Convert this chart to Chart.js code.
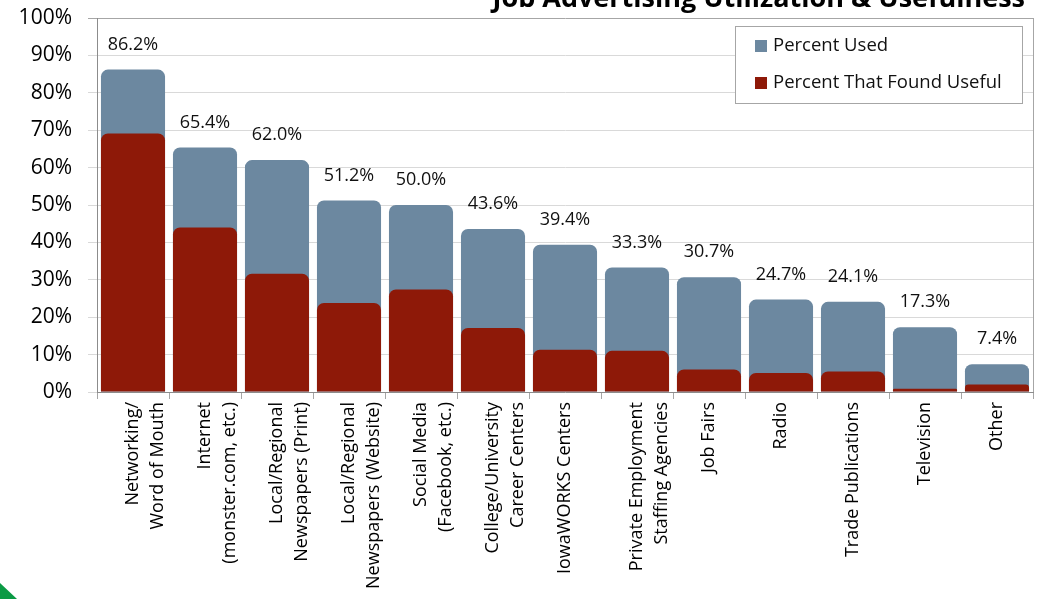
<!DOCTYPE html>
<html>
<head>
<meta charset="utf-8">
<script src="https://cdn.jsdelivr.net/npm/chart.js@4"></script>
<style>
  html, body { margin: 0; padding: 0; background: #ffffff; overflow: hidden; }
  #wrap { position: relative; width: 1038px; height: 599px; }
</style>
</head>
<body>
<div id="wrap"><canvas id="jobChart" width="1038" height="599"></canvas></div>
<script>
// Chart data
const categories = [
    ['Networking/', 'Word of Mouth'],
    ['Internet', '(monster.com, etc.)'],
    ['Local/Regional', 'Newspapers (Print)'],
    ['Local/Regional', 'Newspapers (Website)'],
    ['Social Media', '(Facebook, etc.)'],
    ['College/University', 'Career Centers'],
    'IowaWORKS Centers',
    ['Private Employment', 'Staffing Agencies'],
    'Job Fairs',
    'Radio',
    'Trade Publications',
    'Television',
    'Other'
];
const percentUsed = [86.2, 65.4, 62.0, 51.2, 50.0, 43.6, 39.4, 33.3, 30.7, 24.7, 24.1, 17.3, 7.4];
const percentUseful = [69.1, 44.0, 31.6, 23.8, 27.4, 17.1, 11.3, 11.0, 6.0, 5.1, 5.5, 0.9, 2.0];
const yTicks = [0, 10, 20, 30, 40, 50, 60, 70, 80, 90, 100];

const FONT = '"Open Sans", "Noto Sans", sans-serif';
const usedColor = '#6c88a0';
const usefulColor = '#8e1908';

// value labels above the "used" bars
const valueLabels = {
    id: 'valueLabels',
    afterDatasetsDraw(chart) {
        const ctx = chart.ctx;
        const meta = chart.getDatasetMeta(0);
        ctx.save();
        ctx.font = '18px ' + FONT;
        ctx.fillStyle = '#111111';
        ctx.textAlign = 'center';
        ctx.textBaseline = 'middle';
        meta.data.forEach((bar, i) => {
            ctx.fillText(percentUsed[i].toFixed(1) + '%', bar.x, bar.y - 25);
        });
        ctx.restore();
    }
};

// frame, legend box, title and corner mark
const extras = {
    id: 'extras',
    afterDraw(chart) {
        const ctx = chart.ctx;
        const area = chart.chartArea;
        ctx.save();

        // right border of plot
        ctx.strokeStyle = '#a6a6a6';
        ctx.lineWidth = 1;
        ctx.beginPath();
        ctx.moveTo(Math.round(area.right) + 0.5, area.top);
        ctx.lineTo(Math.round(area.right) + 0.5, area.bottom);
        ctx.stroke();

        // legend
        const lx = 735, ly = 26, lw = 287, lh = 77;
        ctx.fillStyle = '#ffffff';
        ctx.fillRect(lx, ly, lw, lh);
        ctx.strokeStyle = '#a6a6a6';
        ctx.strokeRect(lx + 0.5, ly + 0.5, lw, lh);
        ctx.font = '18.5px ' + FONT;
        ctx.textBaseline = 'middle';
        ctx.textAlign = 'left';
        chart.data.datasets.forEach((ds, i) => {
            const cy = ly + 20 + i * 37;
            ctx.fillStyle = ds.backgroundColor;
            ctx.fillRect(lx + 20, cy - 6, 12, 12);
            ctx.fillStyle = '#111111';
            ctx.fillText(ds.label, lx + 38, cy);
        });

        // title, cut off at the top
        ctx.font = 'bold 27px ' + FONT;
        ctx.fillStyle = '#000000';
        ctx.textAlign = 'right';
        ctx.textBaseline = 'alphabetic';
        ctx.fillText('Job Advertising Utilization & Usefulness', 1025, 7);

        // green corner
        ctx.fillStyle = '#0a9a44';
        ctx.beginPath();
        ctx.moveTo(0, 583);
        ctx.lineTo(17, 599);
        ctx.lineTo(0, 599);
        ctx.closePath();
        ctx.fill();

        ctx.restore();
    }
};

new Chart(document.getElementById('jobChart'), {
    type: 'bar',
    data: {
        labels: categories,
        datasets: [
            {
                label: 'Percent Used',
                data: percentUsed,
                backgroundColor: usedColor,
                borderRadius: { topLeft: 7, topRight: 7, bottomLeft: 0, bottomRight: 0 },
                borderSkipped: false,
                order: 2
            },
            {
                label: 'Percent That Found Useful',
                data: percentUseful,
                backgroundColor: usefulColor,
                borderRadius: { topLeft: 7, topRight: 7, bottomLeft: 0, bottomRight: 0 },
                borderSkipped: false,
                order: 1
            }
        ]
    },
    options: {
        responsive: false,
        animation: false,
        devicePixelRatio: 1,
        layout: { padding: { top: 18, right: 5, left: 0, bottom: 0 } },
        datasets: {
            bar: { grouped: false, barPercentage: 0.89, categoryPercentage: 1.0 }
        },
        scales: {
            x: {
                offset: true,
                grid: {
                    display: true,
                    drawOnChartArea: false,
                    offset: true,
                    tickLength: 7,
                    color: '#a6a6a6'
                },
                border: { display: true, color: '#8c8c8c', width: 1 },
                ticks: {
                    autoSkip: false,
                    maxRotation: 90,
                    minRotation: 90,
                    padding: 3,
                    color: '#000000',
                    font: { family: FONT, size: 18, lineHeight: 1.4 }
                },
                afterFit(scale) { scale.height = 207; }
            },
            y: {
                min: 0,
                max: 100,
                afterBuildTicks(scale) { scale.ticks = yTicks.map(v => ({ value: v })); },
                grid: {
                    color: ctx => (ctx.tick && ctx.tick.value === 100) ? '#a6a6a6' : '#d9d9d9',
                    tickLength: 9
                },
                border: { display: true, color: '#8c8c8c', width: 1 },
                ticks: {
                    padding: 16,
                    color: '#000000',
                    font: { family: FONT, size: 21 },
                    callback: v => v + '%'
                },
                afterFit(scale) {
                    scale.width = 97;
                    scale.paddingTop = 0;
                    scale.paddingBottom = 0;
                }
            }
        },
        plugins: {
            legend: { display: false },
            tooltip: { enabled: false },
            title: { display: false }
        }
    },
    plugins: [valueLabels, extras]
});
</script>
</body>
</html>
